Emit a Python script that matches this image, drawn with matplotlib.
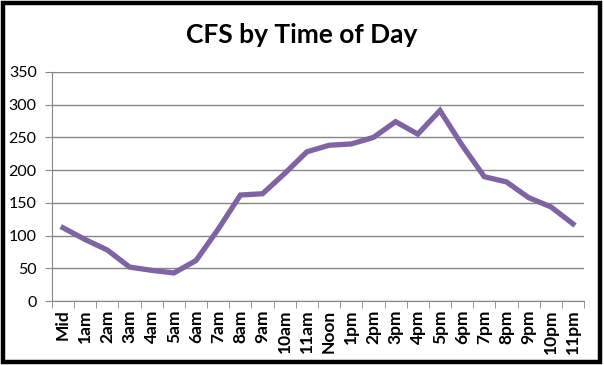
import numpy as np
import matplotlib.pyplot as plt
from matplotlib.patches import Rectangle

hours = ['Mid', '1am', '2am', '3am', '4am', '5am', '6am', '7am', '8am', '9am',
         '10am', '11am', 'Noon', '1pm', '2pm', '3pm', '4pm', '5pm', '6pm',
         '7pm', '8pm', '9pm', '10pm', '11pm']
calls = [112, 94, 78, 52, 47, 43, 62, 110, 162, 164, 195, 228,
         238, 240, 250, 274, 255, 291, 238, 190, 182, 158, 144, 118]

plt.rcParams['font.family'] = ['Lato', 'DejaVu Sans']

fig = plt.figure(figsize=(6.04, 3.65), dpi=100)
ax = fig.add_axes([0.086, 0.175, 0.881, 0.628])

x = np.arange(len(hours))
ax.plot(x, calls, color='#7f63a2', lw=3.8, solid_joinstyle='miter', zorder=3)

ax.set_xlim(-0.5, len(hours) - 0.5)
ax.set_ylim(0, 350)
ax.set_yticks(np.arange(0, 351, 50))
ax.yaxis.grid(True, color='#868686', lw=1)
ax.set_axisbelow(True)

ax.set_xticks(x)
ax.set_xticklabels(hours, rotation=90, fontsize=12.5, fontweight='bold')
ax.set_xticks(np.arange(-0.5, len(hours)), minor=True)
ax.tick_params(axis='x', which='major', length=0, pad=6)
ax.tick_params(axis='x', which='minor', length=5, color='#868686', direction='out')
ax.tick_params(axis='y', length=5, color='#868686', labelsize=11.5, pad=6)

for s in ['top', 'right']:
    ax.spines[s].set_visible(False)
for s in ['left', 'bottom']:
    ax.spines[s].set_color('#868686')

fig.text(0.5, 0.905, 'CFS by Time of Day', ha='center', va='center',
         fontsize=19, fontweight='bold')

fig.patches.append(Rectangle((0.005, 0.008), 0.989, 0.985, transform=fig.transFigure,
                             fill=False, edgecolor='black', lw=3.2))

fig.savefig('out.png', dpi=100)
